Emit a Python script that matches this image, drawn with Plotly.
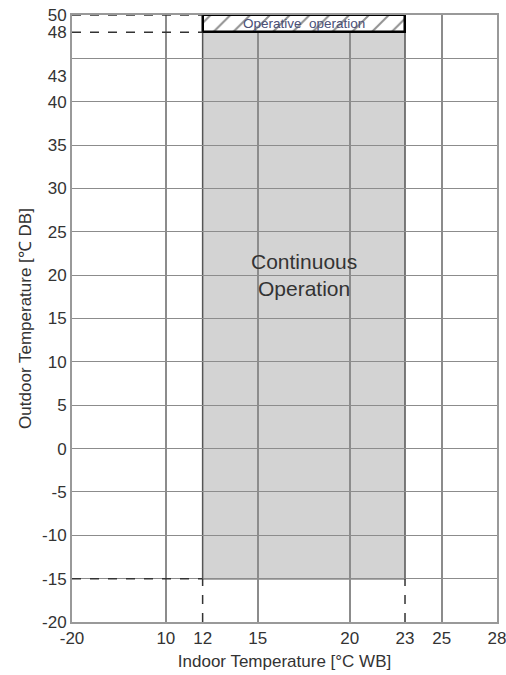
import plotly.graph_objects as go

# ---- data ----
x_tick_values = [-20, 10, 12, 15, 20, 23, 25, 28]
x_grid_values = [10, 15, 20, 25]
y_tick_values = [-20, -15, -10, -5, 0, 5, 10, 15, 20, 25, 30, 35, 40, 43, 48, 50]
continuous_indoor = [12, 23]       # °C WB
continuous_outdoor = [-15, 48]     # °C DB
operative_outdoor = [48, 50]       # °C DB
x_min_value, x_max_value = -20, 28
y_min_value, y_max_value = -20, 50


# broken x-axis: -20 is drawn at a compressed distance left of 10
def xpos(v):
    if v >= 10:
        return v
    return 10 - 5.1 * (10 - v) / 30.0


FONT = "Liberation Sans, Arial, sans-serif"
TXT = "#333333"

fig = go.Figure()

x0, x1 = xpos(continuous_indoor[0]), xpos(continuous_indoor[1])
xl = xpos(x_min_value)

# grey continuous-operation area (below gridlines)
fig.add_shape(type="rect", x0=x0, x1=x1, y0=continuous_outdoor[0], y1=continuous_outdoor[1],
              xref="x", yref="y", layer="below",
              fillcolor="#d3d3d3", line=dict(color="#555555", width=1.5))

# hatched operative-operation box
fig.add_trace(go.Bar(
    x=[(x0 + x1) / 2], y=[operative_outdoor[1] - operative_outdoor[0]],
    base=[operative_outdoor[0]], width=[x1 - x0],
    marker=dict(color="white", line=dict(color="black", width=2.5),
                pattern=dict(shape="/", fgcolor="#222222", bgcolor="white", size=14, solidity=0.14)),
    hoverinfo="skip", showlegend=False))

dash_style = dict(color="#333333", width=1.5, dash="dash")
# horizontal dashed guides
for yv in [operative_outdoor[1], operative_outdoor[0], continuous_outdoor[0]]:
    fig.add_trace(go.Scatter(x=[xl, x0], y=[yv, yv], mode="lines", line=dash_style,
                             hoverinfo="skip", showlegend=False))
# vertical dashed guides
for xv in continuous_indoor:
    fig.add_trace(go.Scatter(x=[xpos(xv), xpos(xv)], y=[y_min_value, continuous_outdoor[0]],
                             mode="lines", line=dash_style, hoverinfo="skip", showlegend=False))

fig.add_annotation(x=(x0 + x1) / 2, y=(operative_outdoor[0] + operative_outdoor[1]) / 2,
                   text="Operative  operation", showarrow=False,
                   font=dict(family=FONT, size=13.5, color="#4a5078"))
fig.add_annotation(x=(x0 + x1) / 2, y=20, text="Continuous<br>Operation", showarrow=False,
                   font=dict(family=FONT, size=21, color=TXT))

fig.update_layout(
    width=506, height=675,
    margin=dict(l=72, r=9, t=15, b=53),
    paper_bgcolor="white", plot_bgcolor="white",
    bargap=0,
    xaxis=dict(
        range=[xpos(x_min_value), xpos(x_max_value)],
        automargin=False, ticklabeloverflow="allow",
        tickmode="array", tickvals=[xpos(v) for v in x_tick_values],
        ticktext=[str(v) for v in x_tick_values],
        showgrid=False, zeroline=False,
        minor=dict(tickmode="array", tickvals=x_grid_values, showgrid=True,
                   gridcolor="#8c8c8c", gridwidth=1.5, ticks=""),
        showline=True, linecolor="#999999", linewidth=2, mirror=True,
        ticks="", tickfont=dict(family=FONT, size=17, color=TXT),
        title=dict(text="Indoor Temperature [°C WB]", font=dict(family=FONT, size=17, color=TXT),
                   standoff=8),
    ),
    yaxis=dict(
        range=[y_min_value, y_max_value],
        automargin=False, ticklabeloverflow="allow",
        tickmode="array", tickvals=y_tick_values,
        ticktext=[str(v) for v in y_tick_values],
        showgrid=False, zeroline=False,
        minor=dict(tick0=-20, dtick=5, showgrid=True, gridcolor="#8c8c8c", gridwidth=1.2, ticks=""),
        showline=True, linecolor="#999999", linewidth=2, mirror=True,
        ticks="", tickfont=dict(family=FONT, size=17, color=TXT),
        title=dict(text="Outdoor Temperature [℃ DB]", font=dict(family=FONT, size=17, color=TXT),
                   standoff=6),
    ),
)

fig.write_html("out.html", config={"displayModeBar": False})

# remove the browser's default page margin so the figure fills the window exactly
with open("out.html", "r", encoding="utf-8") as f:
    html = f.read()
html = html.replace("<head>", "<head><style>html,body{margin:0;padding:0;overflow:hidden;}</style>", 1)
with open("out.html", "w", encoding="utf-8") as f:
    f.write(html)
